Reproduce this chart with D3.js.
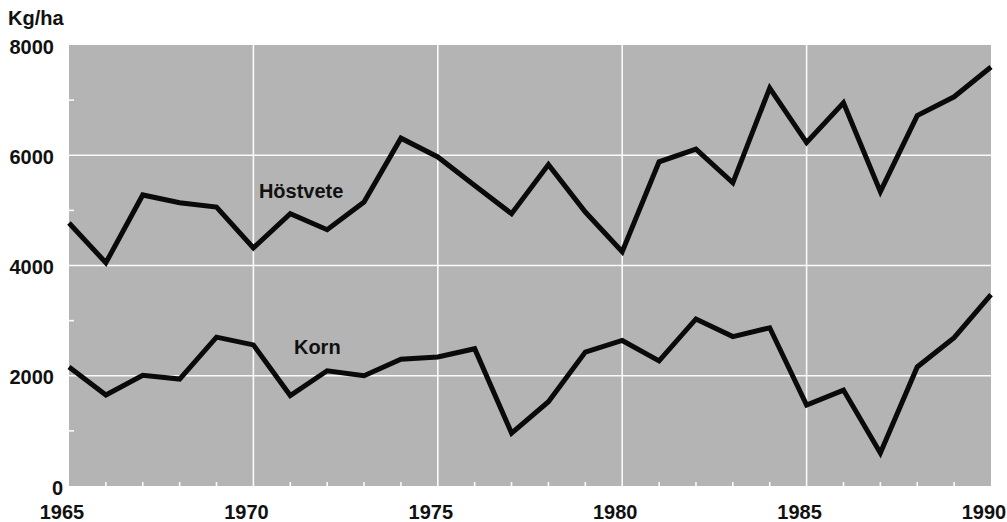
<!DOCTYPE html>
<html>
<head>
<meta charset="utf-8">
<script src="https://cdn.jsdelivr.net/npm/d3@7"></script>
<style>
  body { margin: 0; background: #fff; }
  svg { display: block; }
  text { font-family: "Liberation Sans", Arial, sans-serif; fill: #111; }
</style>
</head>
<body>
<script>
(() => {
	let width = 1007;
	let height = 522;
	let margin = {top: 45, right: 16, bottom: 36, left: 69};

	// yields per year, kg/ha
	let years = d3.range(1965, 1991);
	let hostvete = [4770, 4050, 5280, 5140, 5060, 4320, 4940, 4650, 5150, 6310,
		5970, 5450, 4940, 5830, 4970, 4250, 5880, 6110, 5500, 7220,
		6230, 6950, 5340, 6720, 7060, 7600];
	let korn = [2160, 1650, 2010, 1940, 2700, 2560, 1640, 2090, 2000, 2300,
		2340, 2490, 960, 1530, 2430, 2640, 2270, 3030, 2710, 2870,
		1470, 1740, 600, 2160, 2690, 3470];
	let xTicks = [1965, 1970, 1975, 1980, 1985, 1990];
	let yTicks = [0, 2000, 4000, 6000, 8000];
	let yMinor = [1000, 3000, 5000, 7000];

	let svg = d3.select("body").append("svg")
		.attr("width", width)
		.attr("height", height);

	let x = d3.scaleLinear().domain([1965, 1990]).range([margin.left, width - margin.right]);
	let y = d3.scaleLinear().domain([0, 8000]).range([height - margin.bottom, margin.top]);

	// plot background
	svg.append("rect")
		.attr("x", x(1965))
		.attr("y", y(8000))
		.attr("width", x(1990) - x(1965))
		.attr("height", y(0) - y(8000))
		.attr("fill", "#b4b4b4");

	// white grid
	let grid = svg.append("g").attr("stroke", "#fafafa").attr("stroke-width", 1.6);
	grid.selectAll(".gx")
		.data(xTicks.slice(1, -1))
		.enter().append("line")
		.attr("x1", d => x(d)).attr("x2", d => x(d))
		.attr("y1", y(8000)).attr("y2", y(0));
	grid.selectAll(".gy")
		.data(yTicks.slice(1, -1))
		.enter().append("line")
		.attr("x1", x(1965)).attr("x2", x(1990))
		.attr("y1", d => y(d)).attr("y2", d => y(d));

	// small inner ticks
	grid.selectAll(".tx")
		.data(years.filter(d => d % 5 !== 0))
		.enter().append("line")
		.attr("x1", d => x(d)).attr("x2", d => x(d))
		.attr("y1", y(0)).attr("y2", y(0) - 4);
	grid.selectAll(".ty")
		.data(yMinor)
		.enter().append("line")
		.attr("x1", x(1965)).attr("x2", x(1965) + 5)
		.attr("y1", d => y(d)).attr("y2", d => y(d));

	// series
	let line = d3.line()
		.x((d, i) => x(years[i]))
		.y(d => y(d));

	[hostvete, korn].forEach(series => {
		svg.append("path")
			.datum(series)
			.attr("d", line)
			.attr("fill", "none")
			.attr("stroke", "#0a0a0a")
			.attr("stroke-width", 5)
			.attr("stroke-linejoin", "miter");
	});

	// series labels
	svg.append("text")
		.attr("x", x(1970.15))
		.attr("y", y(5000) - 12)
		.style("font-size", "20px")
		.style("font-weight", "bold")
		.text("Höstvete");
	svg.append("text")
		.attr("x", x(1971.1))
		.attr("y", y(2400))
		.style("font-size", "20px")
		.style("font-weight", "bold")
		.text("Korn");

	// y axis labels
	svg.append("g").selectAll("text")
		.data(yTicks)
		.enter().append("text")
		.attr("x", d => d === 0 ? 63 : 54)
		.attr("y", d => y(d) + 8.5)
		.attr("text-anchor", "end")
		.style("font-size", "20px")
		.style("font-weight", "bold")
		.text(d => d);
	svg.append("text")
		.attr("x", 8)
		.attr("y", 25)
		.style("font-size", "20px")
		.style("font-weight", "bold")
		.text("Kg/ha");

	// x axis labels
	svg.append("g").selectAll("text")
		.data(xTicks)
		.enter().append("text")
		.attr("x", d => x(d) - 7)
		.attr("y", 519)
		.attr("text-anchor", "middle")
		.style("font-size", "20px")
		.style("font-weight", "bold")
		.text(d => d);
})();
</script>
</body>
</html>
